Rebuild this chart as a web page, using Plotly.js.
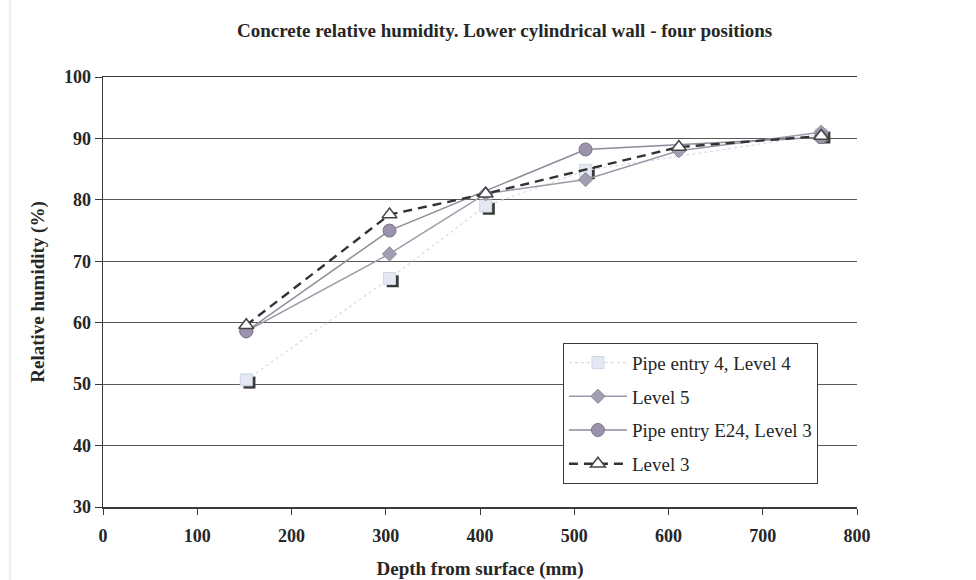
<!DOCTYPE html>
<html>
<head>
<meta charset="utf-8">
<script src="https://cdn.plot.ly/plotly-3.0.1.min.js"></script>
<style>
  html, body { margin: 0; padding: 0; background: #fff; }
  #chart { width: 976px; height: 580px; }
</style>
</head>
<body>
<div id="chart"></div>
<script>
// Depth (mm) and relative humidity (%) for each measuring position
const depthPipe4 = [152, 304, 406, 512, 762];
const rhPipe4 = [50.7, 67.2, 79.0, 84.8, 90.6];

const depthLevel5 = [152, 304, 406, 512, 611, 762];
const rhLevel5 = [58.6, 71.2, 81.0, 83.3, 88.0, 91.0];

const depthE24 = [152, 304, 512, 762];
const rhE24 = [58.6, 75.0, 88.2, 90.2];

const depthLevel3 = [152, 304, 406, 611, 762];
const rhLevel3 = [59.6, 77.6, 81.0, 88.6, 90.4];

const seriesNames = ['Pipe entry 4, Level 4', 'Level 5', 'Pipe entry E24, Level 3', 'Level 3'];

const serif = 'Liberation Serif, Times New Roman, serif';
const ink = '#262626';

const traces = [
  // dark drop shadow under the light squares (drawn on slightly offset hidden axes)
  {
    x: depthPipe4, y: rhPipe4, xaxis: 'x', yaxis: 'y',
    mode: 'markers', showlegend: false, hoverinfo: 'skip',
    marker: { symbol: 'square', size: 12, color: '#3a3a3a' }
  },
  {
    x: depthPipe4, y: rhPipe4, xaxis: 'x2', yaxis: 'y2',
    name: seriesNames[0], legendgroup: 'a',
    mode: 'lines+markers',
    line: { color: '#d4dbe8', width: 1.2, dash: 'dot' },
    marker: { symbol: 'square', size: 12, color: '#e3e8f2', line: { color: '#d0d7e4', width: 1 } }
  },
  {
    x: depthLevel5, y: rhLevel5, xaxis: 'x2', yaxis: 'y2',
    name: seriesNames[1], legendgroup: 'b',
    mode: 'lines+markers',
    line: { color: '#9d9aa8', width: 1.5 },
    marker: { symbol: 'diamond', size: 11, color: '#a29eb1', line: { color: '#8f8b9e', width: 1 } }
  },
  {
    x: depthE24, y: rhE24, xaxis: 'x2', yaxis: 'y2',
    name: seriesNames[2], legendgroup: 'c',
    mode: 'lines+markers',
    line: { color: '#8e8b98', width: 1.5 },
    marker: { symbol: 'circle', size: 13, color: '#9b93ab', line: { color: '#7b7488', width: 1 } }
  },
  {
    x: depthLevel3, y: rhLevel3, xaxis: 'x2', yaxis: 'y2',
    name: seriesNames[3], legendgroup: 'd',
    mode: 'lines+markers',
    line: { color: '#333333', width: 2.4, dash: '9px,6px' },
    marker: { symbol: 'triangle-up', size: 13, color: '#ffffff', line: { color: '#444444', width: 1.5 } }
  }
];

const tickFont = { family: serif, size: 18, color: ink, weight: 'bold' };
const titleFont = { family: serif, size: 19, color: ink, weight: 'bold' };

const layout = {
  width: 976, height: 580,
  margin: { l: 103, r: 119, t: 77, b: 73, autoexpand: false },
  paper_bgcolor: '#ffffff',
  plot_bgcolor: '#ffffff',
  showlegend: true,
  title: {
    text: 'Concrete relative humidity. Lower cylindrical wall - four positions',
    font: { family: serif, size: 19, color: ink, weight: 'bold' },
    x: 0.517, xref: 'container', xanchor: 'center',
    y: 0.948, yref: 'container', yanchor: 'middle'
  },
  // hidden host axes, shifted a few pixels right/down for the square shadows
  xaxis: { range: [-3.4, 796.6], visible: false, fixedrange: true },
  yaxis: { range: [30.45, 100.45], visible: false, fixedrange: true },
  // the visible axes carrying all series
  xaxis2: {
    overlaying: 'x', side: 'bottom',
    range: [0, 800], dtick: 100, tick0: 0,
    showgrid: false, zeroline: false,
    showline: true, linecolor: '#3a3a3a', linewidth: 1.5, mirror: true,
    ticks: 'outside', ticklen: 6, tickcolor: '#3a3a3a', tickwidth: 1,
    ticklabelstandoff: 6,
    tickfont: tickFont,
    title: { text: 'Depth from surface (mm)', font: titleFont, standoff: 24 }
  },
  yaxis2: {
    overlaying: 'y', side: 'left',
    range: [30, 100], dtick: 10, tick0: 30,
    showgrid: true, gridcolor: '#5a5a5a', gridwidth: 1,
    zeroline: false,
    showline: true, linecolor: '#3a3a3a', linewidth: 1.5,
    ticks: 'outside', ticklen: 7, tickcolor: '#3a3a3a', tickwidth: 1,
    tickfont: tickFont,
    title: { text: 'Relative humidity (%)', font: titleFont, standoff: 14 }
  },
  legend: {
    x: 0.61, xanchor: 'left', xref: 'paper',
    y: 0.382, yanchor: 'top', yref: 'paper',
    bgcolor: '#ffffff', bordercolor: '#3a3a3a', borderwidth: 1,
    font: { family: serif, size: 19, color: ink },
    tracegroupgap: 6,
    itemwidth: 58
  },
  shapes: [
    { type: 'line', xref: 'paper', yref: 'paper', x0: -0.1233, x1: -0.1233, y0: -0.2, y1: 1.2,
      line: { color: '#dddddd', width: 1 }, layer: 'below' }
  ]
};

Plotly.newPlot('chart', traces, layout, { displayModeBar: false, staticPlot: true });
</script>
</body>
</html>
